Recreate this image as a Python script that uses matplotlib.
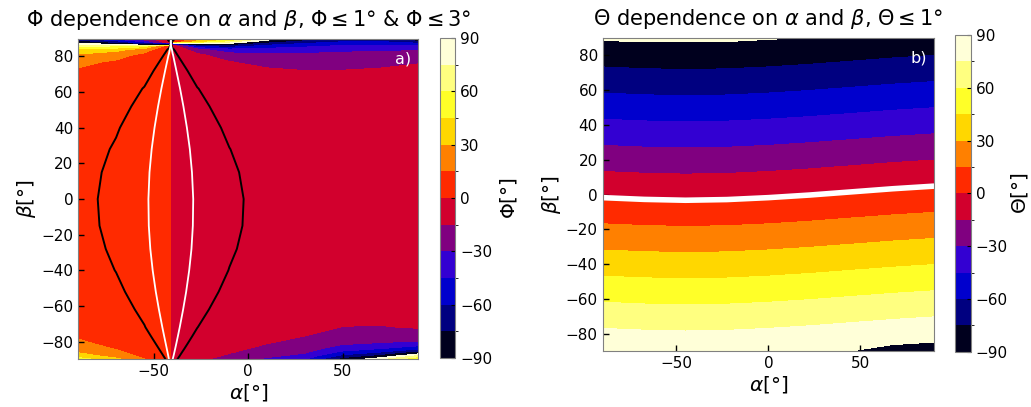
import numpy as np
import matplotlib
matplotlib.use('Agg')
import matplotlib.pyplot as plt
from matplotlib.colors import ListedColormap, BoundaryNorm
from matplotlib.cm import ScalarMappable

# --- panel a: Phi(alpha, beta) in degrees, rows follow beta_a, columns alpha_a ---
alpha_a = [-90, -70, -55, -42, -40, -27, -10, 10, 30, 50, 70, 90]
beta_a = [-90, -88, -86, -84, -81, -77, -72, -62, -52, -40, -28, -15, 0,
          15, 28, 40, 52, 62, 72, 77, 81, 84, 86, 88, 90]
phi = [
    [52.8, 34.2, 15.8, 1.02, -1.02, -11.6, -22.1, -33.8, -44.6, -86.5, -108.3, -135.9],
    [37.6, 23.4, 10.85, 0.72, -0.72, -8.7, -17.2, -26.5, -34.9, -64.9, -83.7, -115.4],
    [28.6, 17.6, 8.25, 0.56, -0.56, -7.0, -14.0, -21.7, -28.3, -48.8, -61.1, -85.2],
    [22.9, 14.1, 6.66, 0.46, -0.46, -5.8, -11.8, -18.3, -23.8, -38.0, -45.3, -57.4],
    [17.5, 10.8, 5.18, 0.36, -0.36, -4.66, -9.58, -14.8, -19.1, -27.9, -31.2, -34.2],
    [13.3, 8.29, 4.0, 0.28, -0.28, -3.7, -7.67, -11.9, -15.1, -20.4, -21.7, -21.2],
    [10.3, 6.44, 3.13, 0.22, -0.22, -2.95, -6.17, -9.51, -12.0, -15.3, -15.6, -14.3],
    [7.17, 4.53, 2.22, 0.16, -0.16, -2.14, -4.51, -6.92, -8.64, -10.2, -10.1, -8.67],
    [5.63, 3.57, 1.76, 0.126, -0.126, -1.72, -3.64, -5.56, -6.89, -7.86, -7.58, -6.37],
    [4.62, 2.94, 1.46, 0.10, -0.10, -1.44, -3.05, -4.64, -5.72, -6.34, -6.04, -4.99],
    [4.07, 2.60, 1.29, 0.093, -0.093, -1.28, -2.72, -4.13, -5.07, -5.51, -5.20, -4.25],
    [3.76, 2.41, 1.20, 0.09, -0.09, -1.20, -2.55, -3.85, -4.70, -5.03, -4.73, -3.84],
    [3.68, 2.36, 1.18, 0.085, -0.085, -1.18, -2.52, -3.79, -4.60, -4.86, -4.54, -3.67],
    [3.85, 2.48, 1.24, 0.09, -0.09, -1.25, -2.66, -3.98, -4.80, -5.02, -4.67, -3.78],
    [4.25, 2.75, 1.38, 0.10, -0.10, -1.39, -2.96, -4.40, -5.28, -5.47, -5.08, -4.12],
    [4.95, 3.22, 1.62, 0.12, -0.12, -1.64, -3.48, -5.13, -6.10, -6.27, -5.82, -4.73],
    [6.26, 4.09, 2.07, 0.15, -0.15, -2.10, -4.45, -6.46, -7.59, -7.73, -7.17, -5.88],
    [8.4, 5.53, 2.81, 0.20, -0.20, -2.87, -6.05, -8.59, -9.92, -9.98, -9.27, -7.72],
    [13.2, 8.9, 4.6, 0.34, -0.34, -4.75, -9.89, -13.3, -14.9, -14.7, -13.7, -11.7],
    [18.7, 13.0, 6.86, 0.51, -0.51, -7.19, -14.7, -18.6, -20.0, -19.4, -18.1, -16.0],
    [27.9, 20.7, 11.4, 0.86, -0.86, -12.3, -23.8, -27.1, -27.6, -26.0, -24.5, -22.7],
    [42.8, 35.8, 22.3, 1.81, -1.81, -25.5, -42.4, -40.2, -37.8, -34.7, -33.0, -32.7],
    [61.6, 61.4, 53.0, 7.03, -7.03, -67.3, -72.5, -56.2, -49.1, -43.9, -42.3, -45.0],
    [90.0, 106.5, 132.7, 176.2, -176.2, -141.4, -115.2, -81.1, -66.1, -57.7, -56.5, -66.0],
    [118.4, 138.7, 159.1, 178.5, -178.5, -161.2, -141.5, -109.9, -88.8, -77.4, -77.6, -96.4],
]

# --- panel b: Theta(alpha, beta) in degrees, rows follow beta_b, columns alpha_b ---
alpha_b = [-90, -67.5, -45, -22.5, 0, 22.5, 45, 67.5, 90]
beta_b = [-90, -80, -45, 0, 45, 80, 90]
theta = [
    [88.2, 87.2, 86.7, 87.1, 88.2, 89.4, 89.6, 93.3, 94.8],
    [78.2, 77.2, 76.7, 77.1, 78.2, 79.7, 81.5, 83.3, 84.8],
    [43.2, 42.2, 41.7, 42.1, 43.2, 44.7, 46.5, 48.3, 49.8],
    [-1.8, -2.8, -3.3, -2.9, -1.8, -0.3, 1.5, 3.3, 4.8],
    [-46.8, -47.8, -48.3, -47.9, -46.8, -45.3, -43.5, -41.7, -40.2],
    [-81.8, -82.8, -83.3, -82.9, -81.8, -80.3, -78.5, -76.7, -75.2],
    [-92.5, -92.8, -92.6, -92.8, -91.6, -90.4, -89.7, -88.3, -85.2],
]

# 15 degree bands from -90 to 90
band_colors = ['#00001e', '#000080', '#0000cd', '#3300d2', '#800080', '#d2002d',
               '#ff2a00', '#ff8000', '#ffd700', '#ffff28', '#ffff80', '#ffffd8']
band_edges = np.arange(-90, 91, 15)

# angles are only defined modulo 180, so repeat the bands over [-180, 180]
wrap_levels = np.arange(-180, 181, 15)
wrap_colors = [band_colors[int(((lo + 90) % 180) // 15)] for lo in wrap_levels[:-1]]

cmap = ListedColormap(band_colors)
norm = BoundaryNorm(band_edges, cmap.N)

fig = plt.figure(figsize=(10.31, 4.07), dpi=100)
ax1 = fig.add_axes([0.0759, 0.117, 0.3298, 0.788])
cax1 = fig.add_axes([0.4268, 0.1204, 0.01455, 0.786])
ax2 = fig.add_axes([0.5846, 0.1366, 0.3213, 0.771])
cax2 = fig.add_axes([0.9263, 0.1359, 0.0152, 0.778])

A, B = np.meshgrid(alpha_a, beta_a)
Z = np.array(phi)
ax1.contourf(A, B, Z, levels=wrap_levels, colors=wrap_colors)
ax1.contour(A, B, Z, levels=[-177, -3, 3, 177], colors='black',
            linewidths=1.4, linestyles='solid')
ax1.contour(A, B, Z, levels=[-179, -1, 1, 179], colors='white',
            linewidths=1.3, linestyles='solid')

A2, B2 = np.meshgrid(alpha_b, beta_b)
Z2 = np.array(theta)
ax2.contourf(A2, B2, Z2, levels=wrap_levels, colors=wrap_colors)
ax2.contourf(A2, B2, Z2, levels=[-1, 1], colors='white')
ax2.contour(A2, B2, Z2, levels=[-1, 1], colors='white',
            linewidths=1.5, linestyles='solid')

titles = [r'$\Phi$ dependence on $\alpha$ and $\beta$, $\Phi \leq 1$° & $\Phi \leq 3$°',
          r'$\Theta$ dependence on $\alpha$ and $\beta$, $\Theta \leq 1$°']
for ax, title, tag in zip([ax1, ax2], titles, ['a)', 'b)']):
    ax.set_xlim(-90, 90)
    ax.set_ylim(-90, 90)
    ax.set_xticks([-50, 0, 50])
    ax.set_yticks(np.arange(-80, 81, 20))
    ax.tick_params(direction='in', length=4, width=1, labelsize=11)
    for sp in ax.spines.values():
        sp.set_color('#808080')
    ax.set_xlabel(r'$\alpha$[°]', fontsize=14.5, labelpad=2)
    ax.set_ylabel(r'$\beta$[°]', fontsize=14.5, labelpad=2)
    ax.set_title(title, fontsize=15, pad=9)
    ax.text(0.98, 0.96, tag, transform=ax.transAxes, ha='right', va='top',
            color='white', fontsize=11.5)

for cax, lab, lpad in zip([cax1, cax2], [r'$\Phi$[°]', r'$\Theta$[°]'], [4, 1]):
    cb = fig.colorbar(ScalarMappable(norm=norm, cmap=cmap), cax=cax,
                      ticks=np.arange(-90, 91, 30))
    cb.outline.set_edgecolor('#808080')
    cb.ax.tick_params(direction='in', length=3, labelsize=11)
    cb.set_label(lab, fontsize=14.5, labelpad=lpad)

fig.savefig('out.png', dpi=100)
